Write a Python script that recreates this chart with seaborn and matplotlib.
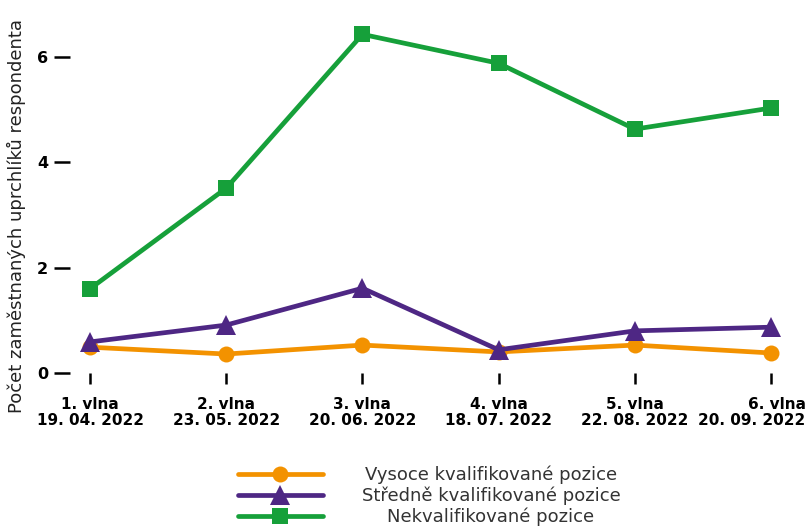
import matplotlib
matplotlib.use("Agg")
import matplotlib.pyplot as plt
import matplotlib.transforms as mtransforms
import seaborn as sns
import pandas as pd

waves = ["1. vlna\n19. 04. 2022", "2. vlna\n23. 05. 2022", "3. vlna\n20. 06. 2022",
         "4. vlna\n18. 07. 2022", "5. vlna\n22. 08. 2022", "6. vlna\n20. 09. 2022"]
vysoce = [0.49, 0.36, 0.53, 0.40, 0.53, 0.38]
stredne = [0.59, 0.91, 1.61, 0.44, 0.80, 0.87]
nekval = [1.60, 3.51, 6.43, 5.88, 4.63, 5.03]
series_names = ["Vysoce kvalifikované pozice", "Středně kvalifikované pozice", "Nekvalifikované pozice"]
y_ticks = [0, 2, 4, 6]

colors = ["#F39200", "#4E2784", "#16A03A"]
markers = ["o", "^", "s"]
msizes = [11.5, 14.5, 12]

sns.set_style("white")
plt.rcParams["font.family"] = ["DejaVu Sans"]

W, H = 808, 530
ax_left, ax_right, ax_top, ax_bottom = 69.6, 791.4, 20.1, 373.0
fig = plt.figure(figsize=(W / 100, H / 100), dpi=100)
ax = fig.add_axes([ax_left / W, 1 - ax_bottom / H, (ax_right - ax_left) / W, (ax_bottom - ax_top) / H])

xs = list(range(len(waves)))
for vals, name, c, m, ms in zip([vysoce, stredne, nekval], series_names, colors, markers, msizes):
    df = pd.DataFrame({"x": xs, "y": vals})
    sns.lineplot(data=df, x="x", y="y", ax=ax, color=c, marker=m, markersize=ms,
                 markeredgewidth=0, linewidth=3.4, label=name)

ax.set_xlim(-0.15, 5.15)
ax.set_ylim(0, 6.7)
ax.set_xticks(xs)
ax.set_xticklabels(waves, fontweight="bold", fontsize=11, linespacing=1.1, color="black")
ax.set_yticks(y_ticks)
ax.set_yticklabels([str(t) for t in y_ticks], fontweight="bold", fontsize=11.5, color="black")
ax.tick_params(axis="x", length=8, width=1.8, color="black", pad=9, direction="out", bottom=True)
ax.tick_params(axis="y", length=11.5, width=1.8, color="black", pad=4, direction="out", left=True)
for s in ax.spines.values():
    s.set_visible(False)

# last label nudged left so it fits inside the figure
last = ax.get_xticklabels()[-1]
last.set_multialignment("right")
last.set_transform(last.get_transform() + mtransforms.ScaledTranslation(-0.19, 0, fig.dpi_scale_trans))

ax.set_xlabel("")
ax.set_ylabel("Počet zaměstnaných uprchlíků respondenta", fontsize=13, color="#222222")
ax.yaxis.set_label_coords(-44 / (ax_right - ax_left), (ax_bottom - 216) / (ax_bottom - ax_top))

leg = ax.legend(loc="center left", bbox_to_anchor=(238 / W, 1 - 496 / H),
                bbox_transform=fig.transFigure, frameon=False, fontsize=13,
                handlelength=4.7, handletextpad=2.15, labelspacing=0.15, borderpad=0,
                borderaxespad=0)
for t in leg.get_texts():
    t.set_color("#333333")

fig.canvas.draw()
r = fig.canvas.get_renderer()
widths = [t.get_window_extent(r).width for t in leg.get_texts()]
wmax = max(widths)
for t, w in zip(leg.get_texts(), widths):
    t.set_x((wmax - w) / 2)

fig.savefig("out.png", dpi=100)
